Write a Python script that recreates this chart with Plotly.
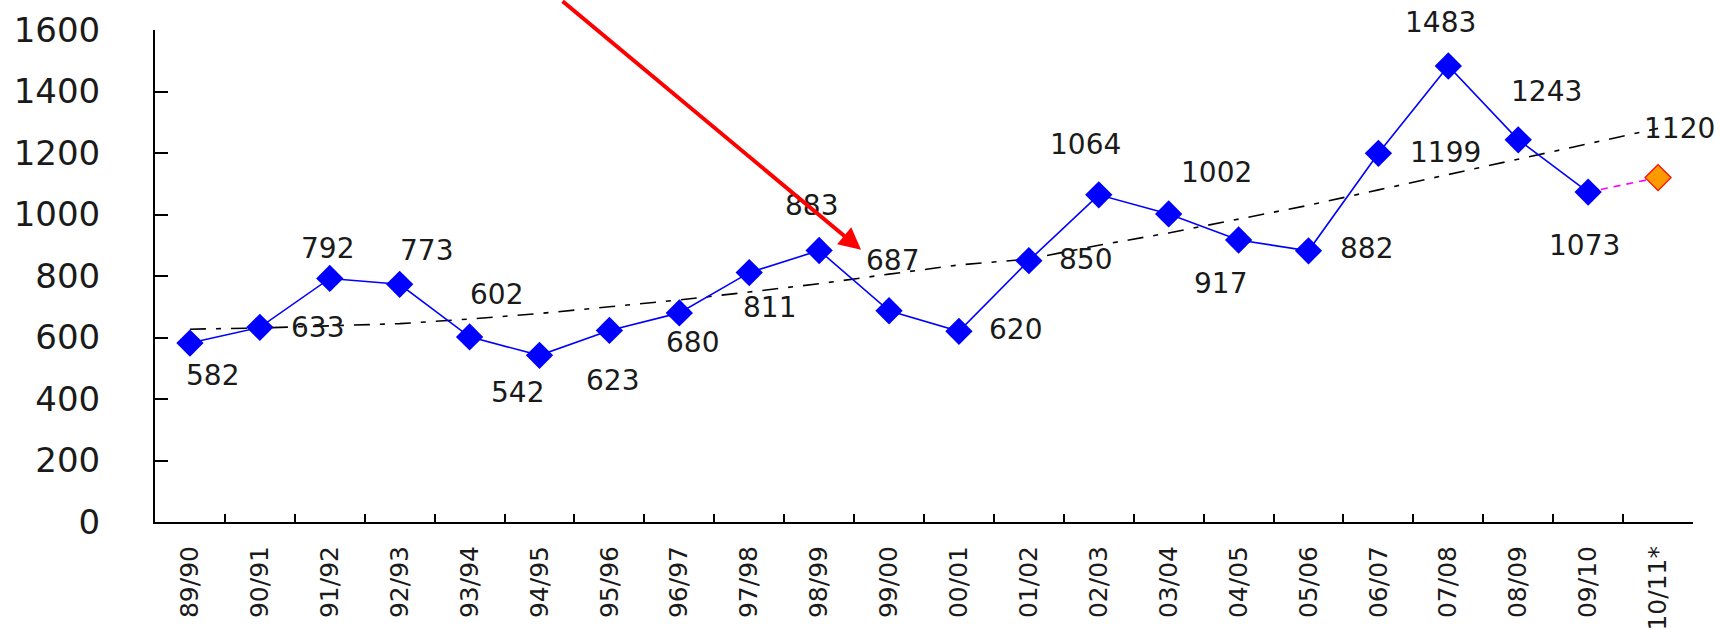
import plotly.graph_objects as go

# data
seasons = ["89/90", "90/91", "91/92", "92/93", "93/94", "94/95", "95/96", "96/97",
           "97/98", "98/99", "99/00", "00/01", "01/02", "02/03", "03/04", "04/05",
           "05/06", "06/07", "07/08", "08/09", "09/10", "10/11*"]
actual = [582, 633, 792, 773, 602, 542, 623, 680, 811, 883, 687, 620, 850,
          1064, 1002, 917, 882, 1199, 1483, 1243, 1073]
forecast_season = "10/11*"
forecast_value = 1120
trend = [627, 631, 638, 645, 660, 678, 700, 722, 748, 775, 806, 836, 855,
         900, 940, 985, 1030, 1080, 1130, 1180, 1228, 1280]
y_ticks = [0, 200, 400, 600, 800, 1000, 1200, 1400, 1600]

# label offsets in pixels (dx, dy), screen coords
label_offsets = [(23, 32), (58, 0), (-2, -30), (27, -34), (27, -42), (-22, 37),
                 (3, 50), (13, 30), (20, 35), (-8, -45), (3, -50), (57, -2),
                 (57, -1), (-13, -50), (48, -41), (-18, 43), (58, -2), (67, -1),
                 (-8, -43), (28, -48), (-4, 53)]
forecast_offset = (21, -49)

FONT = "DejaVu Sans"
TXT = "#1a1a1a"

fig = go.Figure()

fig.add_trace(go.Scatter(
    x=seasons, y=trend, mode="lines",
    line=dict(color="black", width=1.6, dash="16px,10px,5px,10px"),
    hoverinfo="skip"))

fig.add_trace(go.Scatter(
    x=[seasons[len(actual) - 1], forecast_season],
    y=[actual[-1], forecast_value], mode="lines",
    line=dict(color="#ff00ff", width=1.6, dash="7px,6px")))

fig.add_trace(go.Scatter(
    x=seasons[:len(actual)], y=actual, mode="lines+markers",
    line=dict(color="#0000ff", width=1.6),
    marker=dict(symbol="diamond", size=21, color="#0000ff")))

fig.add_trace(go.Scatter(
    x=[forecast_season], y=[forecast_value], mode="markers",
    marker=dict(symbol="diamond", size=20, color="#ff9900",
                line=dict(color="#ff0000", width=1.2))))

annotations = []
for s, v, (dx, dy) in zip(seasons, actual, label_offsets):
    annotations.append(dict(x=s, y=v, text=str(v), showarrow=False,
                            xshift=dx, yshift=-dy,
                            font=dict(family=FONT, size=28, color=TXT)))
annotations.append(dict(x=forecast_season, y=forecast_value, text=str(forecast_value),
                        showarrow=False, xshift=forecast_offset[0],
                        yshift=-forecast_offset[1],
                        font=dict(family=FONT, size=28, color=TXT)))

# red arrow pointing at the 99/00 label
annotations.append(dict(x=9.6, y=885, xref="x", yref="y", text="",
                        showarrow=True, ax=-300, ay=-256,
                        arrowcolor="#ff0000", arrowwidth=4, arrowhead=2,
                        arrowsize=1.1, standoff=0))

fig.update_layout(
    width=1723, height=630,
    margin=dict(l=155, r=30, t=30, b=108),
    paper_bgcolor="white", plot_bgcolor="white",
    showlegend=False,
    annotations=annotations,
    xaxis=dict(type="category", range=[-0.5, 21.5], showgrid=False, zeroline=False,
               automargin=False,
               showline=True, linecolor="black", linewidth=2,
               ticks="inside", tickson="boundaries", ticklen=8, tickwidth=2,
               tickcolor="black", tickangle=-90, ticklabelstandoff=12,
               tickfont=dict(family=FONT, size=25, color=TXT)),
    yaxis=dict(range=[0, 1600], tickvals=y_ticks, showgrid=False, zeroline=False,
               automargin=False,
               showline=True, linecolor="black", linewidth=2,
               ticks="inside", ticklen=13, tickwidth=2, tickcolor="black",
               ticklabelstandoff=46,
               tickfont=dict(family=FONT, size=34, color=TXT)),
)

# page body has a default 8px margin; drop it so the figure sits at 0,0
fig.write_html("out.html", config={"displayModeBar": False},
               post_script="document.body.style.margin='0';")
